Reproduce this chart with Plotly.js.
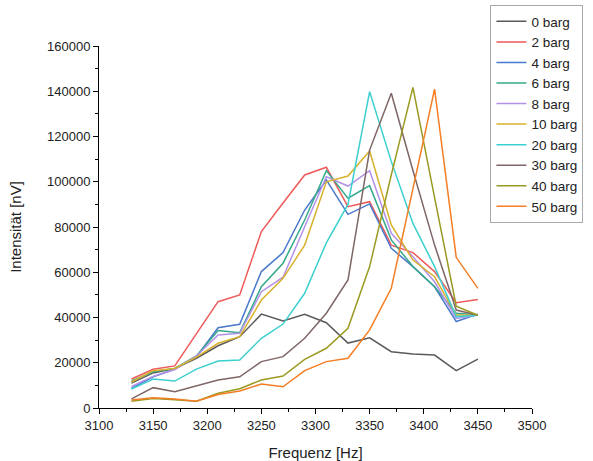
<!DOCTYPE html>
<html>
<head>
<meta charset="utf-8">
<script src="https://cdn.plot.ly/plotly-3.0.1.min.js"></script>
<style>html,body{margin:0;padding:0;background:#fff;}#chart{width:593px;height:461px;}</style>
</head>
<body>
<div id="chart"></div>
<script>
const freq = [3130,3150,3170,3190,3210,3230,3250,3270,3290,3310,3330,3350,3370,3390,3410,3430,3450];
const seriesNames = ["0 barg","2 barg","4 barg","6 barg","8 barg","10 barg","20 barg","30 barg","40 barg","50 barg"];
const barg0  = [11000,15500,17500,22000,27500,31500,41500,38500,41400,37700,28700,31000,24900,23900,23400,16500,21600];
const barg2  = [12800,17100,18600,32800,47000,50000,78000,90600,103000,106400,89000,91200,72000,68700,60300,46500,48000];
const barg4  = [8700,13800,17100,22700,35500,37000,60300,68700,87500,100800,85600,90200,70600,62500,53600,38200,41500];
const barg6  = [12000,16000,17500,23000,34200,33300,53600,64000,83100,104900,92700,98300,74300,62500,53600,41900,41100];
const barg8  = [9500,14000,17000,23000,32300,33000,51400,57800,80100,102200,98100,104900,77200,66900,55800,39600,41100];
const barg10 = [11500,16500,17500,22500,28600,31500,47700,57300,72000,100000,102500,113600,80900,65400,58000,41100,41100];
const barg20 = [8400,12800,11900,17200,20800,21200,30800,37100,50700,73000,90000,139800,109000,81600,62500,40400,41000];
const barg30 = [4000,9000,7200,9700,12400,13800,20500,22700,30800,41900,56600,114000,139100,105000,72000,43300,41000];
const barg40 = [3000,4200,3600,3000,6500,8500,12400,14100,21500,26400,35200,62500,103000,141700,93000,45000,41000];
const barg50 = [3500,4500,4000,3000,6000,7500,10600,9400,16500,20500,22000,34500,52900,97000,140900,66600,52900];
const allSeries = [barg0,barg2,barg4,barg6,barg8,barg10,barg20,barg30,barg40,barg50];
const colors = ["#5a5a5a","#ef5a5a","#4a78cc","#35a88a","#b491ea","#d8b12a","#3ccfcf","#7e6666","#9a9a22","#f57d25"];

const traces = allSeries.map((ys, i) => ({
  x: freq, y: ys, name: seriesNames[i], type: "scatter", mode: "lines",
  line: {color: colors[i], width: 1.5}
}));

const axisFont = {family: "Liberation Sans, Arial, sans-serif", size: 13, color: "#222"};
const layout = {
  width: 593, height: 461,
  margin: {l: 99, r: 61, t: 46, b: 53, autoexpand: false},
  paper_bgcolor: "#fff", plot_bgcolor: "#fff",
  font: {family: "Liberation Sans, Arial, sans-serif", color: "#222"},
  showlegend: true,
  legend: {
    x: 0.904, y: 1.113, xanchor: "left", yanchor: "top",
    bordercolor: "#aaa", borderwidth: 1, bgcolor: "#fff",
    font: {size: 13.5, color: "#222"},
    tracegroupgap: 0
  },
  xaxis: {
    range: [3100, 3500], tickmode: "linear", tick0: 3100, dtick: 50,
    showgrid: false, zeroline: false, showline: true, linecolor: "#000", linewidth: 1,
    ticks: "outside", ticklen: 5, tickcolor: "#000", tickfont: axisFont, automargin: false,
    minor: {ticks: "outside", ticklen: 3, dtick: 25, tick0: 3100, tickcolor: "#000", showgrid: false},
    title: {text: "Frequenz [Hz]", font: {size: 15, color: "#222"}, standoff: 16}
  },
  yaxis: {
    range: [0, 160000], tickmode: "linear", tick0: 0, dtick: 20000,
    showgrid: false, zeroline: false, showline: true, linecolor: "#000", linewidth: 1,
    ticks: "outside", ticklen: 5, tickcolor: "#000", tickfont: axisFont, automargin: false,
    tickformat: "d",
    minor: {ticks: "outside", ticklen: 3, dtick: 10000, tick0: 0, tickcolor: "#000", showgrid: false},
    title: {text: "Intensität [nV]", font: {size: 15, color: "#222"}, standoff: 21}
  }
};
Plotly.newPlot("chart", traces, layout, {displayModeBar: false, staticPlot: true});
</script>
</body>
</html>
